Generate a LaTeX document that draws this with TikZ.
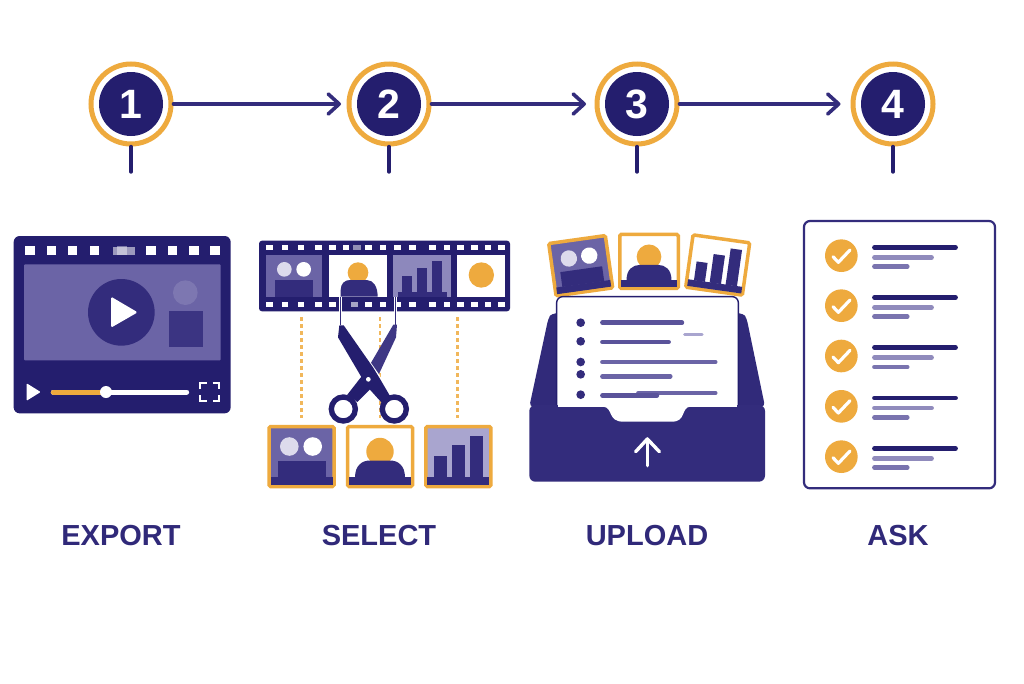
\documentclass[tikz,border=0pt]{standalone}
\usepackage{fontspec}
\setmainfont{Liberation Sans}
\usetikzlibrary{arrows.meta}
\definecolor{navy}{HTML}{241E6E}
\definecolor{indigo}{HTML}{332C7C}
\definecolor{haze}{HTML}{6B64A6}
\definecolor{pale}{HTML}{A9A5CF}
\definecolor{amber}{HTML}{EEAA3E}
\tikzset{
  stepring/.style={circle,draw=amber,line width=5pt,fill=white,minimum size=80pt,inner sep=0pt},
  stepnum/.style={circle,fill=navy,text=white,minimum size=64pt,inner sep=0pt,font=\fontsize{41}{41}\selectfont\bfseries},
  steplink/.style={draw=indigo,line width=3.6pt,line cap=round,-{Straight Barb[length=11pt,width=20pt,round]}},
  stepstem/.style={draw=navy,line width=3.4pt,line cap=round},
  steptext/.style={text=indigo!80!navy,font=\fontsize{29}{29}\selectfont\bfseries},
  cutline/.style={draw=amber!85!white,line width=2.8pt,dash pattern=on 4pt off 3pt},
  thumbline/.style={line width=4.4pt,line cap=round},
}
% thumbnails, drawn round their centre
\newcommand{\thumbbase}{\fill[indigo] (-31,20.7) rectangle (31,28.3);}
\newcommand{\thumbbox}[1]{\filldraw[draw=amber,fill=#1,line width=3.5pt,rounded corners=1.5pt] (-32.5,-30) rectangle (32.5,30);}
\newcommand{\groupthumb}{%
  \thumbbox{haze}
  \fill[pale!40!white] (-12.2,-10) circle (9.3);
  \fill[white] (11.2,-10) circle (9.3);
  \fill[indigo] (-24,4) rectangle (24,21);
  \thumbbase}
\newcommand{\personthumb}{%
  \thumbbox{white}
  \fill[amber] (0,-5) circle (13.7);
  \fill[indigo] (-25,21) .. controls (-25,9) and (-18,4) .. (-10,4) -- (10,4) .. controls (18,4) and (25,9) .. (25,21) -- cycle;
  \thumbbase}
\newcommand{\chartthumb}[1]{%
  \thumbbox{#1}
  \fill[indigo] (-24.3,-0.7) rectangle (-11.7,21);
  \fill[indigo] (-6.3,-11.7) rectangle (6.7,21);
  \fill[indigo] (12,-20.7) rectangle (25,21);
  \thumbbase}
\begin{document}
\begin{tikzpicture}[x=1pt,y=-1pt]
\useasboundingbox (0,0) rectangle (1024,683);
\fill[white] (0,0) rectangle (1024,683);
% ------ steps -------------------
\node[stepring] (ringA) at (131,104) {};
\node[stepring] (ringB) at (389,104) {};
\node[stepring] (ringC) at (637,104) {};
\node[stepring] (ringD) at (893,104) {};
\node[stepnum] (numA) at (ringA) {1};
\node[stepnum] (numB) at (ringB) {2};
\node[stepnum] (numC) at (ringC) {3};
\node[stepnum] (numD) at (ringD) {4};
\draw[steplink,shorten >=5.5pt] (ringA) -- (ringB);
\draw[steplink,shorten >=8.5pt] (ringB) -- (ringC);
\draw[steplink,shorten >=10pt] (ringC) -- (ringD);
\coordinate (stemA) at (131,172);
\coordinate (stemB) at (389,172);
\coordinate (stemC) at (637,172);
\coordinate (stemD) at (893,172);
\draw[stepstem] (ringA.south) -- (stemA);
\draw[stepstem] (ringB.south) -- (stemB);
\draw[stepstem] (ringC.south) -- (stemC);
\draw[stepstem] (ringD.south) -- (stemD);
\node[steptext] (lblA) at (121,536) {EXPORT};
\node[steptext] (lblB) at (379,536) {SELECT};
\node[steptext] (lblC) at (647,536) {UPLOAD};
\node[steptext] (lblD) at (898,536) {ASK};
% ------ export -------------------
\begin{scope}[shift={(0,220)},scale=1/3]
  \fill[navy,rounded corners=6pt] (41,48) rectangle (692,580);
  \foreach \x in {90,154,218,283,453,518,582,645}
    \fill[white] (\x-14,78) rectangle (\x+14,106);
  \fill[white,opacity=.55] (338,80) rectangle (405,104);
  \fill[white,opacity=.4] (352,78) rectangle (382,106);
  \fill[haze,rounded corners=1pt] (72,133) rectangle (662,421);
  \fill[indigo] (364,277) circle (100);
  \fill[white,rounded corners=1.5pt] (333,230) -- (413,277) -- (333,323) -- cycle;
  \fill[white!12!haze] (556,218) circle (37);
  \fill[indigo!85!haze] (508,273) rectangle (608,382);
  \fill[white,rounded corners=.8pt] (80,490) -- (122,516) -- (80,542) -- cycle;
  \draw[white,line width=5pt,line cap=round] (160,516) -- (560,516);
  \draw[amber,line width=5pt,line cap=round] (160,516) -- (318,516);
  \fill[white] (318,516) circle (18);
  \draw[white,line width=2pt] (601,508) -- (601,490) -- (620,490);
  \draw[white,line width=2pt] (638,490) -- (657,490) -- (657,508);
  \draw[white,line width=2pt] (657,525) -- (657,543) -- (638,543);
  \draw[white,line width=2pt] (620,543) -- (601,543) -- (601,525);
\end{scope}
% ------ select -------------------
\begin{scope}[shift={(250,230)},scale=1/3]
  \draw[cutline] (154,262) -- (154,565);
  \draw[cutline] (390,262) -- (390,565);
  \draw[cutline] (623,262) -- (623,565);
  \fill[navy,rounded corners=3pt] (27,32) rectangle (780,244);
  \foreach \x in {58,105,153,205,247,288,355,399,442,487,547,591,632,673,714,755}
    \fill[white] (\x-10,45) rectangle (\x+10,61);
  \fill[white,opacity=.5] (310,45) rectangle (332,61);
  \foreach \x in {58,105,153,205,247,355,399,442,487,547,591,632,673,714,755}
    \fill[white] (\x-10,215) rectangle (\x+10,231);
  \fill[white,opacity=.6] (303,215) rectangle (323,231);
  % frames of the strip
  \fill[haze] (48,76) rectangle (216,200);
  \fill[pale!40!white] (103,118) circle (22);
  \fill[white] (161,118) circle (22);
  \fill[indigo] (75,150) rectangle (190,200);
  \fill[white] (238,76) rectangle (410,200);
  \fill[amber] (324,128) circle (31);
  \fill[indigo] (272,200) -- (272,180) .. controls (272,160) and (285,150) .. (300,150) -- (350,150) .. controls (370,150) and (383,170) .. (383,200) -- cycle;
  \fill[haze!45!pale] (430,76) rectangle (602,200);
  \fill[indigo] (455,137) rectangle (487,200);
  \fill[indigo] (500,113) rectangle (532,200);
  \fill[indigo] (545,93) rectangle (577,200);
  \fill[indigo] (445,185) rectangle (590,200);
  \fill[white] (622,76) rectangle (765,200);
  \fill[amber] (694,135) circle (38);
  % scissors
  \draw[white,line width=2.4pt] (272,200) -- (272,285);
  \draw[white,line width=2.4pt] (436,200) -- (436,285);
  \draw[indigo,line width=1.1pt] (272,200) -- (272,285);
  \draw[indigo,line width=1.1pt] (436,200) -- (436,285);
  \fill[indigo!80!haze] (430,284) -- (441,284) -- (438,322) -- (385,436) -- (355,412) -- cycle;
  \fill[navy] (342,430) -- (376,462) -- (322,516) -- (292,494) -- cycle;
  \draw[white,line width=1.6pt] (281,286) -- (389,440);
  \fill[navy] (268,286) -- (281,286) -- (369,412) -- (392,450) -- (420,498) -- (395,518) -- (350,468) -- (264,322) -- cycle;
  \fill[white] (355,448) circle (7);
  \draw[navy,line width=5.4pt,fill=white] (280,537) circle (36);
  \draw[navy,line width=5.4pt,fill=white] (433,537) circle (36);
\end{scope}
\begin{scope}[shift={(301.5,456.5)}] \groupthumb \end{scope}
\begin{scope}[shift={(380,456.5)}] \personthumb \end{scope}
\begin{scope}[shift={(458.3,456.5)}] \chartthumb{pale} \end{scope}
% ------ upload -------------------
\begin{scope}[shift={(580.7,265.7)},rotate=8,scale=.88] \groupthumb \end{scope}
\begin{scope}[shift={(649,261.3)},scale=.9] \personthumb \end{scope}
\begin{scope}[shift={(717.7,265)},rotate=-8,scale=.88] \chartthumb{white} \end{scope}
\begin{scope}[shift={(520,225)},scale=1/3]
  \fill[indigo!85!navy,rounded corners=4pt] (28,545) -- (85,280) -- (95,265) -- (670,265) -- (680,280) -- (735,545) -- cycle;
  \filldraw[draw=navy,fill=white,line width=1.4pt,rounded corners=6pt] (110,600) -- (110,215) -- (655,215) -- (655,600);
  \fill[indigo,rounded corners=6pt] (28,540) -- (28,770) -- (735,770) -- (735,540) -- cycle;
  \fill[white] (114,520) rectangle (650,545);
  \fill[white] (250,545) .. controls (280,548) and (262,590) .. (310,590) -- (455,590) .. controls (500,590) and (482,548) .. (510,545) -- cycle;
  \foreach \y in {293,349,411,448,509}
    \fill[indigo] (182,\y) circle (13);
  \draw[thumbline,haze!70!indigo] (247,293) -- (486,293);
  \draw[thumbline,pale,line width=3pt] (494,327) -- (546,327);
  \draw[thumbline,haze!70!indigo] (247,351) -- (446,351);
  \draw[thumbline,haze] (247,411) -- (586,411);
  \draw[thumbline,haze] (247,454) -- (451,454);
  \draw[thumbline,haze] (355,504) -- (586,504);
  \draw[thumbline,haze!70!indigo] (247,511) -- (411,511);
  \draw[white,line width=3.4pt,line cap=round,line join=round] (382,722) -- (382,642);
  \draw[white,line width=3.4pt,line cap=round,line join=round] (347,680) -- (382,642) -- (418,680);
\end{scope}
% ------ ask -------------------
\begin{scope}[shift={(795,215)},scale=1/3]
  \draw[indigo,line width=2.2pt,fill=white,rounded corners=6pt] (27,18) rectangle (600,820);
  \foreach \y in {122,272,423,574,725} {
    \fill[amber] (139,\y) circle (49);
    \draw[white,line width=3.2pt,line cap=round,line join=round] (114,\y+3) -- (130,\y+20) -- (165,\y-17);
    \draw[thumbline,navy] (238,\y-25) -- (482,\y-25);
    \draw[thumbline,haze!75!white] (238,\y+5) -- (410,\y+5);
    \draw[thumbline,haze!90!white] (238,\y+33) -- (337,\y+33);
  }
\end{scope}
\end{tikzpicture}
\end{document}
